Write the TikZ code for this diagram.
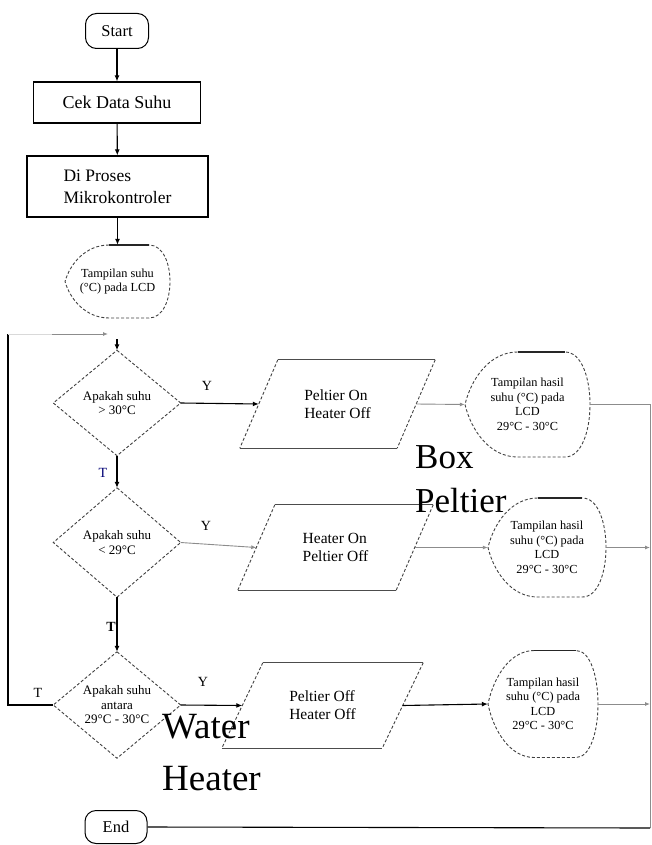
\documentclass[tikz,border=0pt]{standalone}
\usepackage{fontspec}
\setmainfont{Liberation Serif}
\usetikzlibrary{arrows.meta,calc}

\tikzset{
  mainline/.style={line width=1.1pt, black},
  arr/.style={mainline, -{Latex[length=6pt,width=5pt]}},
  grayline/.style={line width=0.9pt, black!45},
  grayarr/.style={grayline, -{Latex[length=5pt,width=4pt]}},
  faintline/.style={line width=0.8pt, black!15},
  dashline/.style={line width=0.9pt, black!75, dash pattern=on 3pt off 2pt},
  thinsolid/.style={line width=1pt, black!70},
  term/.style={draw, line width=1pt, rounded corners=11pt, inner sep=0pt, font=\fontsize{16.5}{18}\selectfont},
  procbox/.style={draw, line width=1.2pt, inner sep=0pt},
  hidden/.style={draw=none, inner sep=0pt, align=center},
  dectext/.style={hidden, font=\fontsize{13}{14.5}\selectfont},
  paratext/.style={hidden, align=left, font=\fontsize{15.5}{18}\selectfont},
  disptext/.style={hidden, font=\fontsize{12.3}{14.5}\selectfont},
  lab/.style={inner sep=0pt, font=\fontsize{14}{16}\selectfont},
  biglab/.style={anchor=base west, inner sep=0pt},
}

% display symbol: name, cx, cy, w, h, text
\newcommand\dispnode[6]{%
  \node[disptext, minimum width=#4pt, minimum height=#5pt] (#1) at (#2,#3) {#6};
  \draw[dashline] ({#2-#4/2+0.42*#4},{#3-#5/2})
     .. controls ({#2-#4/2+0.2*#4},{#3-#5/2}) and ({#2-#4/2+0.05*#4},{#3-0.25*#5}) .. ({#2-#4/2},#3)
     .. controls ({#2-#4/2+0.05*#4},{#3+0.25*#5}) and ({#2-#4/2+0.2*#4},{#3+#5/2}) .. ({#2-#4/2+0.42*#4},{#3+#5/2})
     -- ({#2-#4/2+0.8*#4},{#3+#5/2})
     .. controls ({#2-#4/2+1.0667*#4},{#3+#5/2}) and ({#2-#4/2+1.0667*#4},{#3-#5/2}) .. ({#2-#4/2+0.8*#4},{#3-#5/2});
  \draw[line width=1.2pt, black!85] ({#2-#4/2+0.42*#4},{#3-#5/2}) -- ({#2-#4/2+0.8*#4},{#3-#5/2});
}

% parallelogram: name, cx, cy, w (at mid height), h, slant, text
\newcommand\paranode[7]{%
  \node[paratext, minimum width=#4pt, minimum height=#5pt] (#1) at (#2,#3) {#7};
  \draw[thinsolid] ([xshift=#6pt]#1.north west) -- ([xshift=#6pt]#1.north east);
  \draw[thinsolid] ([xshift=-#6pt]#1.south west) -- ([xshift=-#6pt]#1.south east);
  \draw[dashline] ([xshift=#6pt]#1.north west) -- ([xshift=-#6pt]#1.south west);
  \draw[dashline] ([xshift=#6pt]#1.north east) -- ([xshift=-#6pt]#1.south east);
}

% decision diamond: name, cx, cy, w, h, text
\newcommand\decnode[6]{%
  \node[dectext, minimum width=#4pt, minimum height=#5pt] (#1) at (#2,#3) {#6};
  \draw[dashline] (#1.north) -- (#1.east) -- (#1.south) -- (#1.west) -- cycle;
}

\begin{document}
\begin{tikzpicture}[x=1pt,y=-1pt]
\useasboundingbox (0,0) rectangle (651,845);

% top chain
\node[term, minimum width=63pt, minimum height=35pt] (start) at (117,31) {Start};
\node[procbox, minimum width=167pt, minimum height=41pt, font=\fontsize{18}{20}\selectfont] (cek) at (117,102.5) {Cek Data Suhu};
\node[procbox, minimum width=181pt, minimum height=61pt, align=left, font=\fontsize{17.5}{22}\selectfont] (proses) at (117.5,186.5) {Di Proses\\Mikrokontroler};
\dispnode{d1}{117.5}{281.5}{105}{73}{Tampilan suhu\\(°C) pada LCD}

% decisions
\decnode{dec1}{117}{403}{127}{105}{Apakah suhu\\> 30°C}
\decnode{dec2}{117}{542.5}{127}{109}{Apakah suhu\\< 29°C}
\decnode{dec3}{117}{705}{127}{106}{Apakah suhu\\antara\\29°C - 30°C}

% parallelograms
\paranode{p1}{337.5}{404}{157}{88}{19}{Peltier On\\Heater Off}
\paranode{p2}{335.5}{547.5}{158}{85}{18.5}{Heater On\\Peltier Off}
\paranode{p3}{322.5}{705.5}{160}{85}{20.5}{Peltier Off\\Heater Off}

% displays
\dispnode{d2}{527.5}{404.5}{125}{105}{Tampilan hasil\\suhu (°C) pada\\LCD\\29°C - 30°C}
\dispnode{d3}{547}{547.5}{118}{99}{Tampilan hasil\\suhu (°C) pada\\LCD\\29°C - 30°C}
\dispnode{d4}{543}{704}{110}{107}{Tampilan hasil\\suhu (°C) pada\\LCD\\29°C - 30°C}

\node[term, minimum width=62pt, minimum height=33pt] (end) at (116,827) {End};

% connectors top
\draw[arr] (start) -- (cek);
\draw[arr] (cek) -- (proses);
\draw[arr] (proses) -- (d1);

% loop back
\coordinate (lb) at (8,705);
\coordinate (lt) at (8,334);
\coordinate (la) at (52,334);
\coordinate (lh) at (108,334);
\coordinate (ain) at (117,339);
\draw[mainline] (dec3.west) -- (lb) -- (lt);
\draw[faintline] (lt) -- (la);
\draw[grayarr] (la) -- (lh);
\draw[arr] (ain) -- (dec1.north);

% decision branches
\draw[arr] (dec1.east) -- (p1.west);
\draw[arr] (dec1.south) -- (dec2.north);
\draw[grayarr] (dec2.east) -- (p2.west);
\draw[arr] (dec2.south) -- (dec3.north);
\draw[arr] (dec3.east) -- (p3.west);

\node[lab] (y1) at (207,386) {Y};
\node[lab, text=blue!45!black] (t1) at (103,473) {T};
\node[lab] (y2) at (206,526) {Y};
\node[lab, font=\bfseries\fontsize{14}{16}\selectfont] (t2) at (111,627) {T};
\node[lab] (y3) at (203,682) {Y};
\node[lab] (t3) at (38,693) {T};

% outputs
\draw[grayarr] (p1.east) -- (d2.west);
\draw[grayarr] (p2.east) -- (d3.west);
\draw[arr] (p3.east) -- (d4.west);

\coordinate (rt) at (650,404.5);
\coordinate (rb) at (650,828);
\draw[grayline] (d2.east) -- (rt) -- (rb);
\draw[mainline] (rb) -- (end.east);
\draw[grayarr] (d3.east) -- (d3.east -| rt);
\draw[grayarr] (d4.east) -- (d4.east -| rt);

% large labels
\node[biglab, font=\fontsize{35}{44}\selectfont] (boxlbl) at (415,468) {\vtop{\hbox{Box}\hbox{Peltier}}};
\node[biglab, font=\fontsize{37}{52}\selectfont] (wlbl) at (162,738) {\vtop{\hbox{Water}\hbox{Heater}}};
\end{tikzpicture}
\end{document}
